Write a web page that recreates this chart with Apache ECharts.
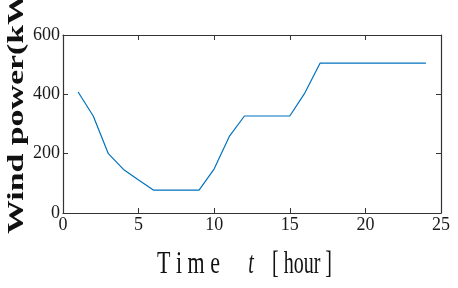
<!DOCTYPE html>
<html>
<head>
<meta charset="utf-8">
<script src="https://cdn.jsdelivr.net/npm/echarts@6/dist/echarts.min.js"></script>
<style>html,body{margin:0;padding:0;background:#fff;}#c{width:458px;height:288px;}</style>
</head>
<body>
<div id="c"></div>
<script>
var hours = [1,2,3,4,5,6,7,8,9,10,11,12,13,14,15,16,17,18,19,20,21,22,23,24];
var windPower = [408,327,200,147,111,77,77,77,77,149,258,327,327,327,327,405,505,505,505,505,505,505,505,505];
var xTicks = [0,5,10,15,20,25];
var yTicks = [0,200,400,600];
var yTitle = 'Wind power(kW)';
var xTitleParts = ['T i m e', 't', '[ hour ]'];

var chart = echarts.init(document.getElementById('c'), null, {renderer:'canvas'});
var axisColor = '#333333';
var labelFont = {fontFamily:'Liberation Serif', fontSize:18, color:'#1a1a1a'};
function baseX(show){
  return {type:'value', min:xTicks[0], max:xTicks[xTicks.length-1], interval:5,
    axisLine:{show:true,onZero:false,lineStyle:{color:axisColor,width:1.2}},
    axisTick:{show:true,inside:true,length:5,lineStyle:{color:axisColor}},
    axisLabel:Object.assign({show:show,margin:3},labelFont),
    splitLine:{show:false}};
}
function baseY(show){
  return {type:'value', min:yTicks[0], max:yTicks[yTicks.length-1], interval:200,
    axisLine:{show:true,onZero:false,lineStyle:{color:axisColor,width:1.2}},
    axisTick:{show:true,inside:true,length:5,lineStyle:{color:axisColor}},
    axisLabel:Object.assign({show:show,margin:3},labelFont),
    splitLine:{show:false}};
}
var xa1 = baseX(true); xa1.position='bottom';
var xa2 = baseX(false); xa2.position='top';
var ya1 = baseY(true); ya1.position='left';
var ya2 = baseY(false); ya2.position='right';

chart.setOption({
  animation:false,
  backgroundColor:'#fff',
  grid:{left:63, right:17, top:35, bottom:75},
  xAxis:[xa1, xa2],
  yAxis:[ya1, ya2],
  series:[{
    type:'line', xAxisIndex:0, yAxisIndex:0,
    data: hours.map(function(h,i){return [h, windPower[i]];}),
    showSymbol:false, symbol:'none',
    lineStyle:{color:'#0072BD', width:1.2}
  }],
  graphic:[
    {type:'text', x:17, y:234, rotation:Math.PI/2, scaleX:1.41,
      style:{text:yTitle, fontFamily:'Liberation Serif', fontWeight:'bold', fontSize:24, fill:'#111',
        textAlign:'left', textVerticalAlign:'middle', verticalAlign:'middle'}},
    {type:'text', x:157, y:265, scaleX:1.1, scaleY:1.6,
      style:{text:xTitleParts[0], fontFamily:'Liberation Serif', fontSize:20, fill:'#111',
        textAlign:'left', verticalAlign:'middle', textVerticalAlign:'middle'}},
    {type:'text', x:251, y:265, scaleY:1.6,
      style:{text:xTitleParts[1], fontFamily:'Liberation Serif', fontStyle:'italic', fontSize:20, fill:'#111',
        textAlign:'center', verticalAlign:'middle', textVerticalAlign:'middle'}},
    {type:'text', x:272, y:265, scaleY:1.6,
      style:{text:xTitleParts[2], fontFamily:'Liberation Serif', fontSize:20, fill:'#111',
        textAlign:'left', verticalAlign:'middle', textVerticalAlign:'middle'}}
  ]
});
</script>
</body>
</html>
